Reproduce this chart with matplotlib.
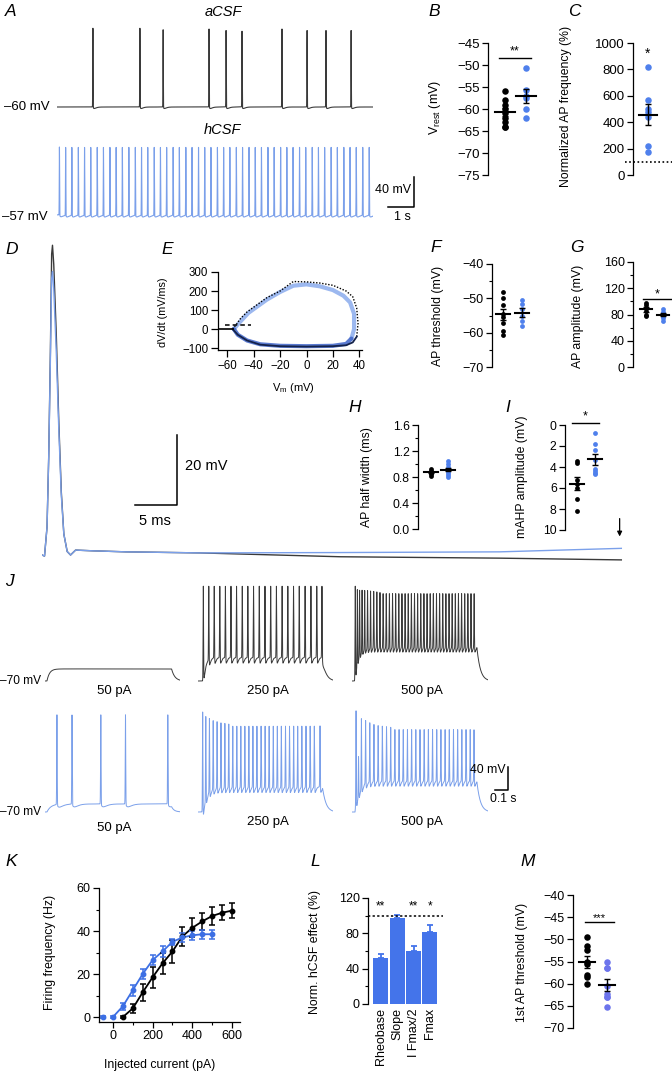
import numpy as np
import matplotlib
matplotlib.use("Agg")
import matplotlib.pyplot as plt
from matplotlib.ticker import MultipleLocator

plt.rcParams['font.family'] = ['Liberation Sans', 'DejaVu Sans']
plt.rcParams['mathtext.fontset'] = 'custom'
plt.rcParams['mathtext.rm'] = 'Liberation Sans'
plt.rcParams['mathtext.it'] = 'Liberation Sans:italic'

W, H = 672, 1074

TRACE_BLACK = '#3a3a3a'
TRACE_BLUE = '#7ba0ea'
DOT_BLUE = '#4f80ec'
BAR_BLUE = '#4474ea'
M_BLUE = '#6c74ec'
K_BLUE = '#3c6fe4'

# ---------------- data ----------------
# A: spontaneous firing (s, mV)
acsf_spikes = [1.33, 3.07, 3.93, 5.63, 6.26, 6.85, 8.33, 9.26, 9.96, 10.89]
acsf_peaks = [45, 45, 43, 44, 42, 41, 44, 42, 42, 42]
hcsf_spikes = [0.09, 0.32, 0.55, 0.79, 1.02, 1.25, 1.49, 1.72, 1.96, 2.19,
               2.42, 2.66, 2.90, 3.13, 3.36, 3.60, 3.83, 4.06, 4.30, 4.53,
               4.77, 5.00, 5.24, 5.47, 5.70, 5.94, 6.17, 6.40, 6.64, 6.87,
               7.11, 7.34, 7.57, 7.81, 8.04, 8.28, 8.51, 8.74, 8.98, 9.21,
               9.45, 9.68, 9.91, 10.15, 10.38, 10.62, 10.85, 11.08, 11.32, 11.56]
hcsf_peak = 35

# B, C
vrest_acsf = [-56, -58, -59, -60, -61, -62, -63, -64, -64]
vrest_hcsf = [-50.7, -55.7, -57, -57.5, -60, -62]
apfreq_hcsf = [815, 565, 500, 480, 440, 220, 175]

# D: averaged AP (ms, mV)
d_t = [0, 0.3, 0.6, 0.8, 1.0, 1.15, 1.25, 1.4, 1.7, 2.0, 2.3, 2.6, 3.0, 3.4,
       4.0, 6.0, 10, 18.8, 35.5, 54.5, 69]
d_acsf = [-58, -58.3, -50, -30, 0, 28, 30.5, 25, 5, -20, -40, -52, -57, -58,
          -56.6, -56.8, -57.1, -57.4, -58.5, -58.9, -59.4]
d_hcsf = [-58, -58.3, -50, -30, -2, 21, 23, 18, 0, -22, -41, -52, -57, -58,
          -56.6, -56.8, -57.1, -57.4, -57.3, -57.1, -56.1]

# E: phase plots (mV, mV/ms)
e_acsf_up_v = [-56, -53, -50, -45, -40, -30, -20, -10, 0, 10, 20, 30, 35, 38, 39, 38]
e_acsf_up_dv = [0, 25, 55, 90, 115, 165, 200, 250, 248, 242, 230, 200, 170, 110, 30, -40]
e_acsf_lo_v = [38, 35, 30, 20, 0, -20, -35, -45, -52, -56]
e_acsf_lo_dv = [-40, -70, -85, -90, -92, -90, -82, -60, -30, 0]
e_hcsf_up_v = [-55, -52, -48, -44, -40, -30, -20, -10, 0, 10, 20, 28, 33, 36, 36, 34]
e_hcsf_up_dv = [0, 25, 55, 85, 105, 155, 195, 228, 235, 225, 205, 175, 140, 80, 0, -50]
e_hcsf_lo_v = [34, 30, 20, 0, -20, -35, -45, -52, -55]
e_hcsf_lo_dv = [-50, -78, -88, -90, -88, -80, -60, -30, 0]

# F-I
thr_acsf = [-48, -50, -52, -54.5, -55.5, -57, -59.5, -60.5]
thr_hcsf = [-50.5, -51.5, -53, -55, -56.5, -58]
amp_acsf = [98, 95, 90, 86, 80, 77]
amp_hcsf = [88, 84, 82, 80, 78, 75, 70]
hw_acsf = [0.92, 0.90, 0.88, 0.87, 0.86, 0.84, 0.82]
hw_hcsf = [1.05, 1.00, 0.96, 0.92, 0.90, 0.86, 0.83, 0.80]
mahp_acsf = [3.4, 3.6, 5.2, 5.6, 6.0, 7.0, 8.2]
mahp_hcsf = [0.8, 1.8, 2.4, 3.3, 4.2, 4.4, 4.6, 4.7]

# J: current steps (s, mV)
j_currents = ['50 pA', '250 pA', '500 pA']
j_acsf_plateau = [-49, -29, -9]
j_hcsf_plateau = [-56, -26, -15]
j_acsf_spikes = [
    [],
    [0.041, 0.083, 0.125, 0.168, 0.211, 0.254, 0.297, 0.341, 0.384, 0.428, 0.472,
     0.516, 0.560, 0.604, 0.648, 0.692, 0.736, 0.780, 0.825, 0.870, 0.915, 0.955],
    [0.025, 0.041, 0.058, 0.077, 0.097, 0.119, 0.142, 0.166, 0.190, 0.214, 0.238,
     0.262, 0.286, 0.310, 0.334, 0.358, 0.382, 0.406, 0.430, 0.454, 0.478, 0.502,
     0.526, 0.550, 0.574, 0.598, 0.622, 0.646, 0.670, 0.694, 0.718, 0.742, 0.766,
     0.790, 0.814, 0.838, 0.862, 0.886, 0.910, 0.934],
]
j_acsf_peaks_first = [[], [95], [95, 94, 93, 92, 91, 90, 89, 88, 87, 86]]
j_acsf_peak_ss = [0, 95, 84]
j_hcsf_spikes = [
    [0.092, 0.208, 0.430, 0.620, 0.946],
    [0.036, 0.060, 0.088, 0.117, 0.147, 0.177, 0.207, 0.237, 0.268, 0.299,
     0.330, 0.361, 0.392, 0.423, 0.454, 0.486, 0.517, 0.548, 0.580, 0.611,
     0.642, 0.674, 0.705, 0.737, 0.768, 0.800, 0.832, 0.864, 0.896, 0.940],
    [0.031, 0.050, 0.072, 0.104, 0.136, 0.168, 0.200, 0.232, 0.264, 0.296,
     0.328, 0.360, 0.392, 0.424, 0.456, 0.488, 0.520, 0.552, 0.584, 0.616,
     0.648, 0.680, 0.712, 0.744, 0.776, 0.808, 0.840, 0.872, 0.904, 0.933],
]
j_hcsf_peaks_first = [[99, 99, 99, 99, 99], [104, 98, 94, 90, 88, 86, 85, 84],
                      [106, 30, 95, 90, 86, 83, 81, 80, 79, 78]]
j_hcsf_peak_ss = [99, 80, 74]
j_step_on = [0.015, 0.038, 0.023]
j_step_off = [0.975, 0.96, 0.955]

# K: f-I curves
k_acsf_i = [50, 100, 150, 200, 250, 300, 350, 400, 450, 500, 550, 600]
k_acsf_f = [0, 4, 11.5, 18.5, 25, 30.5, 37.5, 41.5, 44.5, 47, 48.5, 49.5]
k_acsf_err = [0.5, 2, 4, 5, 5, 5.5, 4.5, 4.5, 4, 4, 3.5, 3.5]
k_hcsf_i = [-50, 0, 50, 100, 150, 200, 250, 300, 350, 400, 450, 500]
k_hcsf_f = [0, 0, 5, 12.5, 20, 26.5, 30.5, 35, 37, 38, 38.5, 38.5]
k_hcsf_err = [0.3, 0.3, 1.5, 2.5, 2.5, 2.5, 2.5, 1.5, 2, 2, 2, 2]

# L
l_labels = ['Rheobase', 'Slope', 'I Fmax/2', 'Fmax']
l_values = [52, 97, 60, 82]
l_err = [5, 4, 6, 7]
l_stars = ['**', '', '**', '*']

# M
first_thr_acsf = [-49.5, -51.5, -52.5, -55, -55.5, -58, -58.5, -60]
first_thr_hcsf = [-55, -56.5, -56.5, -60.5, -62.3, -63, -63, -65.3]

fig = plt.figure(figsize=(W / 100, H / 100), dpi=100)


def rect(x0, y0, x1, y1):
    return [x0 / W, 1 - y1 / H, (x1 - x0) / W, (y1 - y0) / H]


def ftext(x, y, s, **kw):
    kw.setdefault('ha', 'center')
    kw.setdefault('va', 'center')
    fig.text(x / W, 1 - y / H, s, **kw)


def letter(x, y, s):
    ftext(x, y, s, fontsize=12.5, style='italic', ha='left')


def spike_trace(t, base, spikes, peaks, sigma, ahp, tau):
    v = base.copy()
    for ts, pk in zip(spikes, peaks):
        b = np.interp(ts, t, base)
        v += (pk - b) * np.exp(-0.5 * ((t - ts) / sigma) ** 2)
        dt = t - ts
        m = dt > 0
        v[m] -= ahp * (dt[m] / tau) * np.exp(1 - dt[m] / tau)
    return v


def step_base(t, rest, plateau, t_on, t_off, tau_on, tau_off):
    v = np.full_like(t, rest)
    on = (t >= t_on) & (t < t_off)
    v[on] = plateau + (rest - plateau) * np.exp(-(t[on] - t_on) / tau_on)
    end_val = plateau + (rest - plateau) * np.exp(-(t_off - t_on) / tau_on)
    off = t >= t_off
    v[off] = rest + (end_val - rest) * np.exp(-(t[off] - t_off) / tau_off)
    return v


def dot_panel(box, ylim, major, minor, groups, colors, first_px, gap_px,
              size, fs, hw_px=8, invert=False):
    x0, y0, x1, y1 = box
    ax = fig.add_axes(rect(x0, y0, x1, y1))
    ax.set_xlim(-(first_px - x0) / gap_px, (x1 - first_px) / gap_px)
    ax.set_ylim(ylim[::-1] if invert else ylim)
    hw = hw_px / gap_px
    for i, (vals, c) in enumerate(zip(groups, colors)):
        ax.scatter(np.full(len(vals), i), vals, s=size, color=c, linewidths=0,
                   zorder=2, clip_on=False)
        m = np.mean(vals)
        se = np.std(vals, ddof=1) / np.sqrt(len(vals))
        ax.plot([i - hw, i + hw], [m, m], color='k', lw=1.5, zorder=3)
        ax.errorbar(i, m, yerr=se, color='k', elinewidth=1, capsize=2.5,
                    capthick=1, zorder=3)
    for s in ['top', 'right', 'bottom']:
        ax.spines[s].set_visible(False)
    ax.spines['left'].set_linewidth(0.9)
    ax.set_xticks([])
    ax.yaxis.set_major_locator(MultipleLocator(major))
    if minor:
        ax.yaxis.set_minor_locator(MultipleLocator(minor))
    ax.tick_params(axis='y', which='major', length=4, width=0.9, labelsize=fs, pad=2)
    ax.tick_params(axis='y', which='minor', length=2.5, width=0.8)
    ax.patch.set_alpha(0)
    return ax


def sig(ax, xa, xb, y, s, dy, fs=9):
    ax.plot([xa, xb], [y, y], color='k', lw=1, clip_on=False)
    ax.text((xa + xb) / 2, y + dy, s, ha='center', va='center', fontsize=fs,
            clip_on=False)


# ---------------- A ----------------
tA = np.linspace(0, 11.7, 40000)
axA1 = fig.add_axes(rect(57, 24.5, 373, 110.75))
vA1 = spike_trace(tA, np.full_like(tA, -60.0), acsf_spikes, acsf_peaks, 0.006, 2.0, 0.05)
axA1.plot(tA, vA1, color=TRACE_BLACK, lw=0.8)
axA1.set_xlim(0, 11.7)
axA1.set_ylim(-65, 50)
axA1.axis('off')

axA2 = fig.add_axes(rect(57, 143.25, 373, 219.75))
vA2 = spike_trace(tA, np.full_like(tA, -55.5), hcsf_spikes,
                  [hcsf_peak] * len(hcsf_spikes), 0.006, 2.5, 0.06)
axA2.plot(tA, vA2, color=TRACE_BLUE, lw=0.8)
axA2.set_xlim(0, 11.7)
axA2.set_ylim(-62, 40)
axA2.axis('off')
axA2.plot([12.26, 13.22, 13.22], [-45, -45, -5], color='k', lw=1.1, clip_on=False)

letter(5, 11, 'A')
ftext(223, 12, 'aCSF', fontsize=10.5, style='italic')
ftext(222, 130, 'hCSF', fontsize=10.5, style='italic')
ftext(50, 107, '\u201360 mV', fontsize=9.5, ha='right')
ftext(48, 217, '\u201357 mV', fontsize=9.5, ha='right')
ftext(411, 190, '40 mV', fontsize=9, ha='right')
ftext(402, 217, '1 s', fontsize=9)

# ---------------- B ----------------
axB = dot_panel((488, 43, 545, 175), (-75, -45), 5, None, [vrest_acsf, vrest_hcsf],
                ['k', DOT_BLUE], 505, 21, 22, 9.5, hw_px=10)
sig(axB, -0.3, 1.25, -48.3, '**', 1.4)
letter(428, 12, 'B')
ftext(435, 107, 'V$_{\\rm rest}$ (mV)', fontsize=9, rotation=90)

# ---------------- C ----------------
axC = dot_panel((633, 43, 672, 175), (0, 1000), 200, None, [apfreq_hcsf],
                [DOT_BLUE], 648, 20, 22, 9.5, hw_px=9)
axC.plot([-1.15, 1.2], [100, 100], color='k', lw=1.2, ls=(0, (1, 1.5)), clip_on=False)
axC.text(0, 915, '*', ha='center', va='center', fontsize=10)
letter(568, 12, 'C')
ftext(566, 106, 'Normalized AP frequency (%)', fontsize=8.8, rotation=90)

# ---------------- D ----------------
axD = fig.add_axes(rect(42, 240, 623, 569))
axD.plot(d_t, d_acsf, color=TRACE_BLACK, lw=1.0)
axD.plot(d_t, d_hcsf, color=TRACE_BLUE, lw=1.0)
axD.set_xlim(0, 69.2)
axD.set_ylim(-62, 32)
axD.axis('off')
axD.plot([11.07, 16.07, 16.07], [-43.7, -43.7, -23.7], color='k', lw=1.1, clip_on=False)
axD.text(17.0, -32.6, '20 mV', fontsize=10.5, ha='left', va='center')
axD.text(13.5, -48.3, '5 ms', fontsize=10.5, ha='center', va='center')
axD.annotate('', xy=(68.8, -53.5), xytext=(68.8, -46.8),
             arrowprops=dict(arrowstyle='-|>', color='k', lw=0.9,
                             mutation_scale=7), annotation_clip=False)
letter(5, 250, 'D')

# ---------------- E ----------------
axE = fig.add_axes(rect(218, 272, 362, 350))
axE.plot(e_hcsf_up_v, e_hcsf_up_dv, color=TRACE_BLUE, lw=3.0, alpha=0.75,
         solid_capstyle='round')
axE.plot(e_hcsf_lo_v, e_hcsf_lo_dv, color='#3d63c8', lw=3.0, alpha=0.85,
         solid_capstyle='round')
axE.plot(e_acsf_up_v, e_acsf_up_dv, color='k', lw=1.0, ls=(0, (1, 1.2)))
axE.plot(e_acsf_lo_v, e_acsf_lo_dv, color='#14224a', lw=1.3)
axE.plot([-67, -56], [0, 0], color='k', lw=1.2)
axE.plot([-62, -42], [20, 20], color='k', lw=1.1, ls=(0, (3, 2)))
axE.set_xlim(-67, 42)
axE.set_ylim(-110, 300)
for s in ['top', 'right']:
    axE.spines[s].set_visible(False)
axE.spines['left'].set_linewidth(0.9)
axE.spines['bottom'].set_linewidth(0.9)
axE.set_xticks([-60, -40, -20, 0, 20, 40])
axE.set_yticks([-100, 0, 100, 200, 300])
axE.tick_params(length=5, width=0.9, labelsize=8.3, pad=2)
axE.patch.set_alpha(0)
letter(161, 250, 'E')
ftext(163, 312, 'dV/dt (mV/ms)', fontsize=7.8, rotation=90)
ftext(293, 388, 'V$_{\\rm m}$ (mV)', fontsize=8)

# ---------------- F ----------------
axF = dot_panel((492, 264, 540, 367.5), (-70, -40), 10, 5, [thr_acsf, thr_hcsf],
                ['k', DOT_BLUE], 503, 19, 12, 9, hw_px=7)
letter(430, 248, 'F')
ftext(438, 316, 'AP threshold (mV)', fontsize=8.8, rotation=90)

# ---------------- G ----------------
axG = dot_panel((633, 262, 672, 367), (0, 160), 40, 20, [amp_acsf, amp_hcsf],
                ['k', DOT_BLUE], 646, 17, 12, 9, hw_px=6)
sig(axG, -0.2, 1.55, 104, '*', 6)
letter(570, 248, 'G')
ftext(578, 316, 'AP amplitude (mV)', fontsize=8.8, rotation=90)

# ---------------- H ----------------
axH = dot_panel((418, 425, 470, 529), (0, 1.6), 0.4, 0.2, [hw_acsf, hw_hcsf],
                ['k', DOT_BLUE], 431, 17, 12, 8.8, hw_px=7)
letter(348, 407, 'H')
ftext(367, 477, 'AP half width (ms)', fontsize=8.8, rotation=90)

# ---------------- I ----------------
axI = dot_panel((565, 425, 615, 530), (0, 10), 2, None, [mahp_acsf, mahp_hcsf],
                ['k', DOT_BLUE], 577, 18, 12, 8.8, hw_px=7, invert=True)
sig(axI, -0.3, 1.2, -0.2, '*', -0.6)
letter(505, 407, 'I')
ftext(522, 477, 'mAHP amplitude (mV)', fontsize=8.8, rotation=90)

# ---------------- J ----------------
tJ = np.linspace(0, 1.04, 9000)
col_x = [(45, 180), (198, 333), (352, 488)]
for c in range(3):
    xa, xb = col_x[c]
    for row, (plateaus, spikes_all, pf_all, pss_all, color, ytop, ybot) in enumerate([
            (j_acsf_plateau, j_acsf_spikes, j_acsf_peaks_first, j_acsf_peak_ss,
             TRACE_BLACK, 577.5, 686.75),
            (j_hcsf_plateau, j_hcsf_spikes, j_hcsf_peaks_first, j_hcsf_peak_ss,
             TRACE_BLUE, 708.5, 817.75)]):
        ax = fig.add_axes(rect(xa, ytop, xb, ybot))
        base = step_base(tJ, -70.0, plateaus[c], j_step_on[c], j_step_off[c],
                         0.02 if row == 0 else 0.03, 0.025)
        spk = spikes_all[c]
        pf = pf_all[c]
        peaks = [pf[k] if k < len(pf) else pss_all[c] for k in range(len(spk))]
        ahp = 10.0 if c > 0 else 5.0
        v = spike_trace(tJ, base, spk, peaks, 0.0018, ahp, 0.006 if c > 0 else 0.02)
        ax.plot(tJ, v, color=color, lw=0.7)
        ax.set_xlim(0, 1.04)
        ax.set_ylim(-80, 110)
        ax.axis('off')
        if row == 1 and c == 2:
            ax.plot([1.093, 1.193, 1.193], [-31.7, -31.7, 8.3], color='k', lw=1.1,
                    clip_on=False)
    ftext((xa + xb) / 2 + 2, 691, j_currents[c], fontsize=9.5)
    ftext((xa + xb) / 2 + 2, 828 if c == 0 else 822, j_currents[c], fontsize=9.5)
ftext(41, 681, '\u201370 mV', fontsize=8.6, ha='right')
ftext(41, 812, '\u201370 mV', fontsize=8.6, ha='right')
ftext(505, 770, '40 mV', fontsize=8.8, ha='right')
ftext(503, 799, '0.1 s', fontsize=8.8)
letter(5, 581, 'J')

# ---------------- K ----------------
axK = fig.add_axes(rect(99, 888, 240, 1022))
axK.plot(k_acsf_i, k_acsf_f, color='k', lw=1.3)
axK.plot(k_hcsf_i[1:], k_hcsf_f[1:], color=K_BLUE, lw=1.3)
axK.errorbar(k_acsf_i, k_acsf_f, yerr=k_acsf_err, fmt='o', color='k', ms=3.2,
             elinewidth=1.1, capsize=2.5, capthick=1.1, clip_on=False)
axK.errorbar(k_hcsf_i, k_hcsf_f, yerr=k_hcsf_err, fmt='o', color=K_BLUE, ms=3.2,
             elinewidth=1.1, capsize=2.5, capthick=1.1, clip_on=False)
axK.set_xlim(-70, 640)
axK.set_ylim(-2.3, 60)
for s in ['top', 'right']:
    axK.spines[s].set_visible(False)
axK.spines['left'].set_linewidth(0.9)
axK.spines['bottom'].set_linewidth(0.9)
axK.set_xticks([0, 200, 400, 600])
axK.xaxis.set_minor_locator(MultipleLocator(100))
axK.set_yticks([0, 20, 40, 60])
axK.yaxis.set_minor_locator(MultipleLocator(10))
axK.tick_params(which='major', length=4, width=0.9, labelsize=9, pad=2)
axK.tick_params(which='minor', length=2.5, width=0.8)
axK.patch.set_alpha(0)
letter(5, 862, 'K')
ftext(50, 952, 'Firing frequency (Hz)', fontsize=8.8, rotation=90)
ftext(160, 1065, 'Injected current (pA)', fontsize=8.8)

# ---------------- L ----------------
axL = fig.add_axes(rect(368, 898, 445, 1004))
xl = np.arange(len(l_values))
axL.bar(xl, l_values, width=0.91, color=BAR_BLUE, zorder=2)
axL.errorbar(xl, l_values, yerr=[[0] * len(l_err), l_err], fmt='none',
             ecolor=BAR_BLUE, elinewidth=1.3, capsize=2.5, capthick=1.3, zorder=2)
axL.plot([-0.76, 3.8], [100, 100], color='k', lw=1.1, ls=(0, (1.5, 1.5)),
         zorder=3, clip_on=False)
for i, s in enumerate(l_stars):
    if s:
        axL.text(i, 110, s, ha='center', va='center', fontsize=8.5)
axL.set_xlim(-0.76, 3.91)
axL.set_ylim(0, 120)
for s in ['top', 'right', 'bottom']:
    axL.spines[s].set_visible(False)
axL.spines['left'].set_linewidth(0.9)
axL.set_xticks(xl)
axL.set_xticklabels(l_labels, rotation=90, fontsize=9)
axL.tick_params(axis='x', length=0, pad=3)
axL.set_yticks([0, 40, 80, 120])
axL.yaxis.set_minor_locator(MultipleLocator(20))
axL.tick_params(axis='y', which='major', length=4, width=0.9, labelsize=9, pad=2)
axL.tick_params(axis='y', which='minor', length=2.5, width=0.8)
axL.patch.set_alpha(0)
letter(310, 862, 'L')
ftext(315, 952, 'Norm. hCSF effect (%)', fontsize=8.8, rotation=90)

# ---------------- M ----------------
axM = dot_panel((573, 895, 630, 1028), (-70, -40), 5, None,
                [first_thr_acsf, first_thr_hcsf], ['k', M_BLUE], 587, 20, 22, 9,
                hw_px=8)
sig(axM, -0.1, 1.35, -46.2, '***', 1.0, fs=8)
letter(520, 862, 'M')
ftext(522, 962, '1st AP threshold (mV)', fontsize=8.8, rotation=90)

fig.savefig('out.png', dpi=100)
